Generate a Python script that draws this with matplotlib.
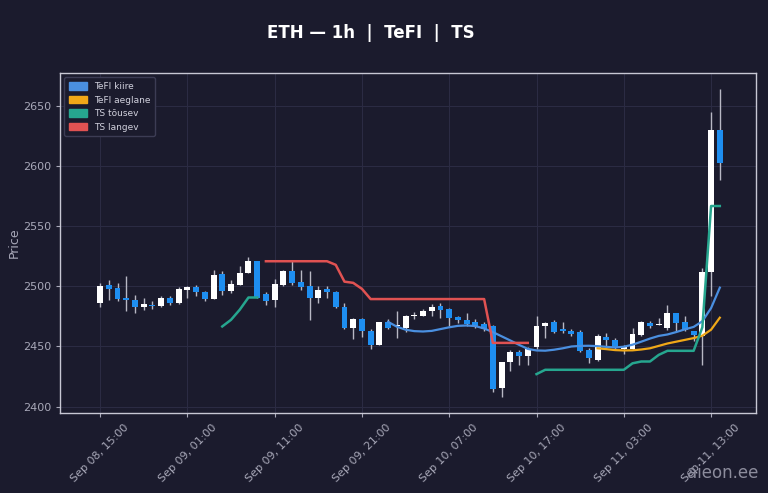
import numpy as np
import pandas as pd
import matplotlib
matplotlib.use('Agg')
import matplotlib.pyplot as plt
from matplotlib.patches import Patch

nan = np.nan

# Data: ETH 1h candles
start_time = '2024-09-08 15:00'
opens = [2486.1, 2500.8, 2498.6, 2490.3, 2488.9, 2483.3, 2484.7, 2483.9, 2490.8, 2486.1,
         2497.2, 2499.2, 2495.3, 2489.7, 2510.6, 2496.4, 2501.4, 2511.1, 2521.4, 2493.9,
         2488.9, 2501.4, 2513.1, 2503.3, 2500.0, 2490.8, 2497.8, 2495.3, 2483.3, 2465.3,
         2473.1, 2463.1, 2451.4, 2470.8, 2467.0, 2465.8, 2475.6, 2475.8, 2479.2, 2483.9,
         2481.4, 2474.2, 2472.2, 2470.0, 2468.6, 2466.7, 2415.3, 2436.7, 2445.8, 2442.2,
         2449.5, 2466.7, 2470.0, 2464.5, 2463.3, 2462.0, 2447.3, 2438.9, 2457.5, 2455.6,
         2447.8, 2448.1, 2459.8, 2469.5, 2467.8, 2465.3, 2477.8, 2470.0, 2462.5, 2458.4,
         2511.7, 2630.6]
highs = [2502.8, 2505.6, 2502.8, 2508.4, 2492.5, 2490.3, 2488.0, 2491.7, 2492.2, 2499.2,
         2500.6, 2500.8, 2495.8, 2513.9, 2512.5, 2505.6, 2516.7, 2524.2, 2521.4, 2495.3,
         2506.4, 2513.9, 2520.8, 2513.9, 2512.5, 2500.0, 2500.6, 2496.4, 2486.1, 2473.6,
         2473.6, 2464.7, 2470.8, 2472.8, 2479.7, 2476.4, 2478.6, 2481.1, 2485.3, 2486.1,
         2482.0, 2475.6, 2478.3, 2472.8, 2470.0, 2468.1, 2437.5, 2447.3, 2446.7, 2449.4,
         2475.6, 2470.0, 2472.2, 2470.0, 2464.5, 2463.9, 2448.7, 2460.3, 2461.2, 2457.0,
         2451.4, 2465.3, 2470.9, 2471.4, 2473.6, 2484.8, 2478.0, 2475.0, 2462.5, 2515.3,
         2645.0, 2664.5]
lows = [2482.5, 2488.9, 2487.5, 2479.2, 2477.8, 2480.6, 2481.4, 2483.3, 2484.7, 2485.3,
        2490.8, 2491.7, 2488.1, 2489.7, 2493.1, 2494.5, 2501.4, 2511.1, 2490.0, 2484.7,
        2483.3, 2500.0, 2501.4, 2497.2, 2472.2, 2486.1, 2490.8, 2482.0, 2464.7, 2456.4,
        2458.3, 2447.8, 2451.4, 2464.7, 2457.0, 2461.7, 2473.0, 2475.0, 2475.0, 2473.6,
        2466.7, 2469.4, 2467.3, 2465.3, 2462.5, 2412.5, 2408.3, 2429.2, 2434.7, 2434.7,
        2447.8, 2457.0, 2461.1, 2461.1, 2458.4, 2445.3, 2436.2, 2438.1, 2448.7, 2448.1,
        2443.6, 2447.3, 2458.4, 2465.3, 2467.5, 2463.9, 2463.1, 2463.1, 2454.2, 2434.7,
        2491.7, 2588.9]
closes = [2500.0, 2497.8, 2489.5, 2488.9, 2483.3, 2485.3, 2483.9, 2490.8, 2486.1, 2497.8,
          2499.2, 2495.3, 2489.5, 2509.7, 2495.8, 2502.2, 2511.1, 2521.4, 2490.8, 2487.5,
          2501.9, 2512.5, 2502.8, 2499.4, 2490.8, 2497.2, 2495.0, 2482.5, 2465.3, 2473.1,
          2462.5, 2451.4, 2470.3, 2465.8, 2468.0, 2475.8, 2476.0, 2479.7, 2483.3, 2480.0,
          2473.6, 2471.7, 2468.9, 2467.3, 2464.5, 2414.5, 2437.5, 2445.8, 2441.7, 2447.8,
          2467.2, 2469.5, 2461.7, 2462.5, 2460.6, 2446.0, 2440.3, 2458.4, 2455.6, 2448.7,
          2449.5, 2460.3, 2470.0, 2467.3, 2468.9, 2477.8, 2469.5, 2463.9, 2459.2, 2511.7,
          2630.6, 2602.8]

# Indicators (nan = not drawn)
tefi_fast = [nan] * 33 + [
    2470.5, 2466.5, 2464.0, 2462.8, 2462.5, 2463.0, 2464.5, 2466.0, 2467.2, 2467.5,
    2467.0, 2465.0, 2462.0, 2458.5, 2455.0, 2451.4, 2448.0, 2446.7, 2446.5, 2447.3,
    2448.5, 2450.0, 2450.5, 2450.6, 2450.3, 2449.7, 2449.2, 2449.8, 2451.5, 2454.0,
    2456.6, 2458.8, 2460.0, 2462.0, 2464.3, 2466.3, 2471.0, 2482.0, 2499.0]
tefi_slow = [nan] * 57 + [
    2448.5, 2447.8, 2447.0, 2446.7, 2446.8, 2447.5, 2448.5, 2450.5, 2452.5, 2454.0,
    2455.5, 2457.0, 2459.0, 2464.0, 2474.0]
ts_up = [nan] * 14 + [2466.7, 2472.2, 2480.6, 2490.8, 2490.8] + [nan] * 31 + [
    2427.0, 2430.6, 2430.6, 2430.6, 2430.6, 2430.6, 2430.6, 2430.6, 2430.6, 2430.6,
    2430.6, 2436.0, 2437.5, 2437.5, 2443.0, 2446.4, 2446.4, 2446.4, 2446.4, 2466.0,
    2567.0, 2567.0]
ts_down = [nan] * 19 + [
    2521.0, 2521.0, 2521.0, 2521.0, 2521.0, 2521.0, 2521.0, 2521.0, 2518.0, 2504.0,
    2503.0, 2498.0, 2489.5, 2489.5, 2489.5, 2489.5, 2489.5, 2489.5, 2489.5, 2489.5,
    2489.5, 2489.5, 2489.5, 2489.5, 2489.5, 2489.5, 2453.0, 2453.0, 2453.0, 2453.0,
    2453.0] + [nan] * 22

times = pd.date_range(start_time, periods=len(opens), freq='h')
x = np.arange(len(opens))

# Colours
bg = '#1b1b2d'
bull = '#ffffff'
bear = '#1e8ef0'
wick_col = '#b8b8c4'
fast_col = '#4a8fe0'
slow_col = '#f0a818'
up_col = '#26a68f'
down_col = '#e05252'

fig = plt.figure(figsize=(7.68, 4.93), dpi=100, facecolor=bg)
ax = fig.add_axes([0.078, 0.162, 0.907, 0.690])
ax.set_facecolor(bg)

o = np.array(opens)
c = np.array(closes)
is_bull = c >= o
colors = [bull if b else bear for b in is_bull]
ax.vlines(x, lows, highs, color=wick_col, linewidth=1.0, zorder=2)
body_low = np.minimum(o, c)
body_h = np.maximum(np.abs(c - o), 0.7)
ax.bar(x, body_h, bottom=body_low, width=0.68, color=colors, linewidth=0, zorder=3)

# Indicator lines
ax.plot(x, tefi_fast, color=fast_col, linewidth=1.6, zorder=4)
ax.plot(x, tefi_slow, color=slow_col, linewidth=1.6, zorder=4)
ax.plot(x, ts_up, color=up_col, linewidth=1.8, zorder=4)
ax.plot(x, ts_down, color=down_col, linewidth=1.8, zorder=4)

ax.set_xlim(-4.6, 75.2)
ax.set_ylim(2394.5, 2677.8)
ax.set_yticks([2400, 2450, 2500, 2550, 2600, 2650])
tick_idx = list(range(0, len(x), 10))
ax.set_xticks(tick_idx)
ax.set_xticklabels([times[i].strftime('%b %d, %H:%M') for i in tick_idx],
                   rotation=45, ha='center')
ax.tick_params(colors='#a8a8b8', labelsize=8, length=3)
ax.set_ylabel('Price', color='#a8a8b8', fontsize=9, labelpad=1)
ax.grid(True, color='#2c2c44', linewidth=0.7, zorder=0)
for s in ax.spines.values():
    s.set_color('#c8c8d4')
    s.set_linewidth(1.0)

handles = [Patch(color=fast_col, label='TeFI kiire'),
           Patch(color=slow_col, label='TeFI aeglane'),
           Patch(color=up_col, label='TS tõusev'),
           Patch(color=down_col, label='TS langev')]
leg = ax.legend(handles=handles, loc='upper left', fontsize=6.5, frameon=True,
                facecolor=bg, edgecolor='#3c3c54', labelcolor='#d0d0dc',
                handlelength=2.0, handleheight=0.9, borderpad=0.5)
leg.get_frame().set_alpha(1.0)

fig.text(0.483, 0.933, 'ETH — 1h  |  TeFI  |  TS', color='white', fontsize=12,
         fontweight='bold', ha='center', va='center')
fig.text(0.988, 0.022, 'aieon.ee', color='#8c8c9c', fontsize=12, ha='right', va='bottom')

fig.savefig('out.png', dpi=100, facecolor=bg)
